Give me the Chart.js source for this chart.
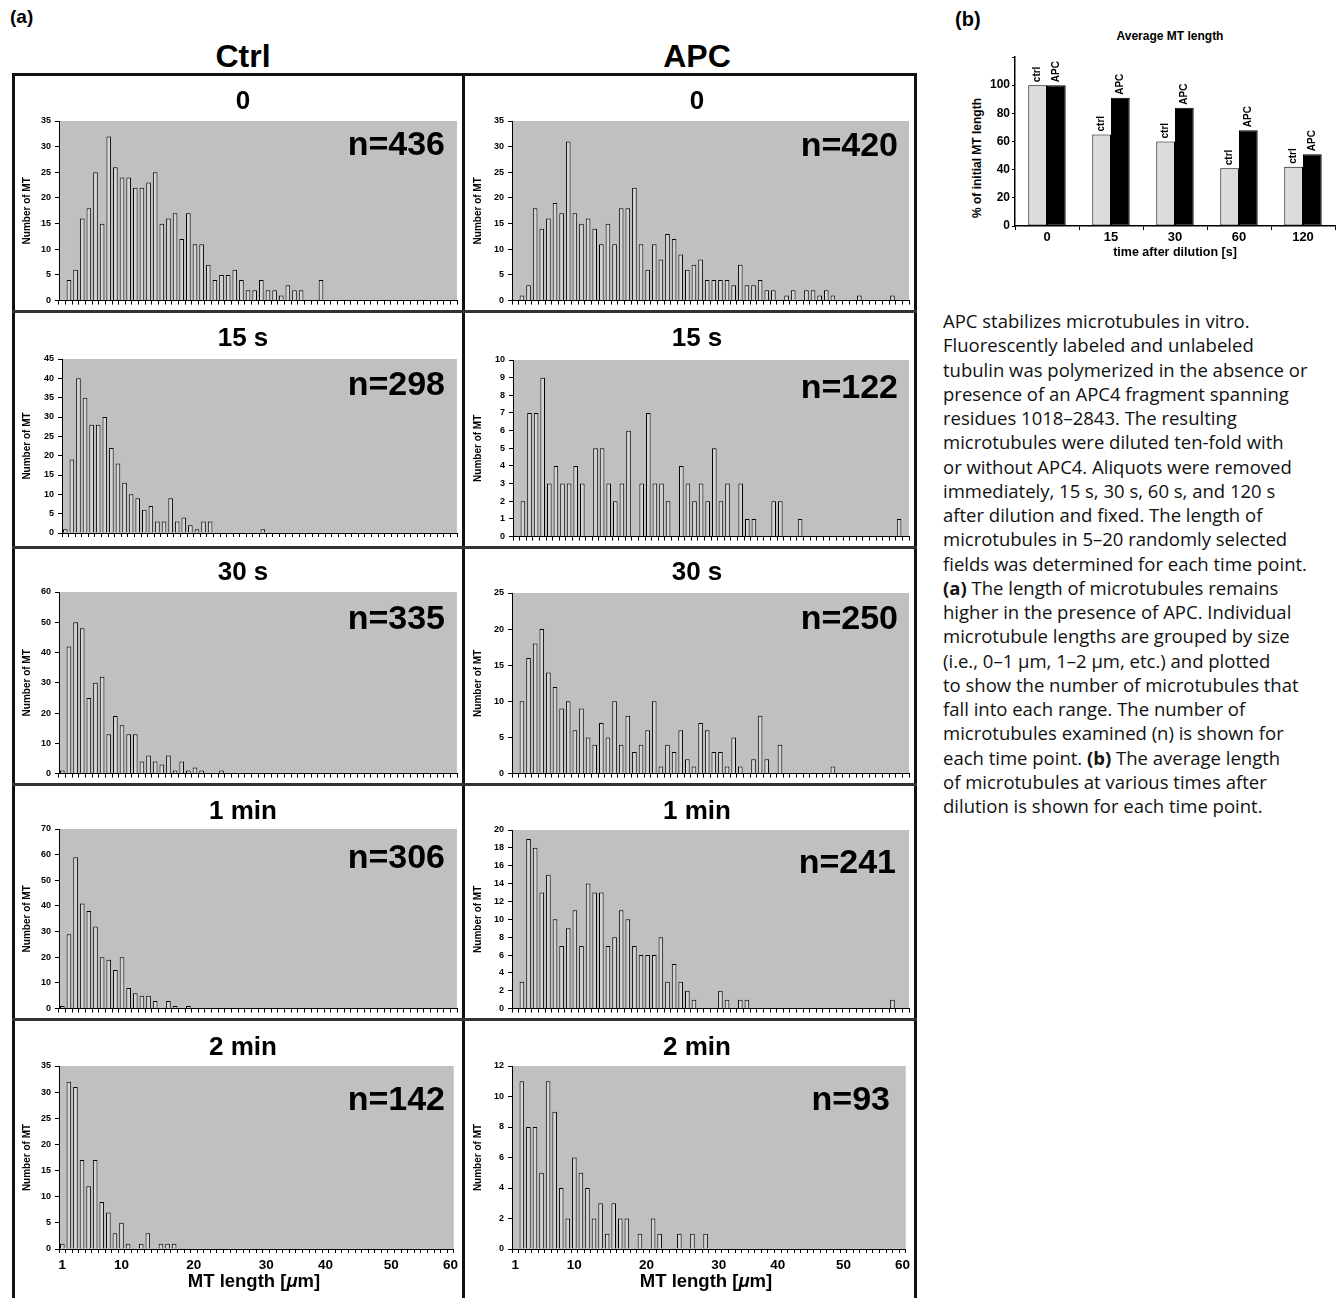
<!DOCTYPE html>
<html>
<head>
<meta charset="utf-8">
<script src="https://cdn.jsdelivr.net/npm/chart.js@4.4.1/dist/chart.umd.min.js"></script>
<style>
  html,body{margin:0;padding:0;background:#fff;}
  body{width:1343px;height:1298px;overflow:hidden;position:relative;font-family:"Liberation Sans",Arial,Helvetica,sans-serif;color:#000;}
  .t{position:absolute;white-space:nowrap;line-height:1;font-weight:bold;}
  .c{text-align:center;}
  .r{text-align:right;}
  .line{position:absolute;background:#111;}
  #caption{position:absolute;left:943px;top:309px;width:400px;font-family:"Open Sans","Liberation Sans",Arial,sans-serif;font-size:18.5px;line-height:24.25px;white-space:nowrap;color:#111;}
  #ytitleB{position:absolute;left:876.7px;top:149.5px;width:200px;text-align:center;font-size:12px;line-height:16px;font-weight:bold;transform:rotate(-90deg);transform-origin:100px 8px;white-space:nowrap;}
  canvas{position:absolute;}
</style>
</head>
<body>
<div class="t" style="left:10px;top:7px;font-size:19px;">(a)</div>
<div class="t c" style="left:143px;width:200px;top:40px;font-size:32px;">Ctrl</div>
<div class="t c" style="left:597px;width:200px;top:40px;font-size:32px;">APC</div>

<div class="line" style="left:12px;top:73px;width:905px;height:3px;"></div>
<div class="line" style="left:12px;top:73px;width:3px;height:1230px;"></div>
<div class="line" style="left:914px;top:73px;width:3px;height:1230px;"></div>
<div class="line" style="left:462px;top:73px;width:3px;height:1230px;"></div>
<div class="line" style="left:12px;top:310px;width:905px;height:3px;background:#333;"></div>
<div class="line" style="left:12px;top:546px;width:905px;height:3px;background:#333;"></div>
<div class="line" style="left:12px;top:783px;width:905px;height:3px;background:#333;"></div>
<div class="line" style="left:12px;top:1018px;width:905px;height:3px;background:#333;"></div>

<div class="t" style="left:955px;top:9px;font-size:20px;">(b)</div>
<div class="t c" style="left:1070px;width:200px;top:29.5px;font-size:12px;">Average MT length</div>
<div id="ytitleB">% of initial MT length</div>

<div id="caption">APC stabilizes microtubules in vitro.<br>Fluorescently labeled and unlabeled<br>tubulin was polymerized in the absence or<br>presence of an APC4 fragment spanning<br>residues 1018–2843. The resulting<br>microtubules were diluted ten-fold with<br>or without APC4. Aliquots were removed<br>immediately, 15 s, 30 s, 60 s, and 120 s<br>after dilution and fixed. The length of<br>microtubules in 5–20 randomly selected<br>fields was determined for each time point.<br><b>(a)</b> The length of microtubules remains<br>higher in the presence of APC. Individual<br>microtubule lengths are grouped by size<br>(i.e., 0–1 μm, 1–2 μm, etc.) and plotted<br>to show the number of microtubules that<br>fall into each range. The number of<br>microtubules examined (n) is shown for<br>each time point. <b>(b)</b> The average length<br>of microtubules at various times after<br>dilution is shown for each time point.</div>

<script>
// ---------------- DATA ----------------
// Histogram bins: 60 bins, first bin labelled "1" (µm)
const binLabels = ['1','2','3','4','5','6','7','8','9','10','11','12','13','14','15','16','17','18','19','20',
  '21','22','23','24','25','26','27','28','29','30','31','32','33','34','35','36','37','38','39','40',
  '41','42','43','44','45','46','47','48','49','50','51','52','53','54','55','56','57','58','59','60'];
// x tick labels shown on the bottom row and the bin they sit under
const xTickText = ['1','10','20','30','40','50','60'];
const xTickBin  = [0, 9, 20, 31, 40, 50, 59];

const panelTitles = ['0','15 s','30 s','1 min','2 min'];

const ctrl0   = [0,4,6,16,18,25,15,32,26,24, 24,22,22,23,25,15,16,17,12,17, 11,11,7,4,5,5,6,4,2,2, 4,2,2,1,3,2,2,0,0,4, 0,0,0,0,0,0,0,0,0,0, 0,0,0,0,0,0,0,0,0,0];
const ctrl15  = [1,19,40,35,28,28,30,22,18,13, 10,9,6,7,3,3,9,3,4,2, 1,3,3,0,0,0,0,0,0,0, 1,0,0,0,0,0,0,0,0,0, 0,0,0,0,0,0,0,0,0,0, 0,0,0,0,0,0,0,0,0,0];
const ctrl30  = [1,42,50,48,25,30,32,13,19,16, 13,13,4,6,4,3,6,1,4,1, 2,1,0,0,1,0,0,0,0,0, 0,0,0,0,0,0,0,0,0,0, 0,0,0,0,0,0,0,0,0,0, 0,0,0,0,0,0,0,0,0,0];
const ctrl60  = [1,29,59,41,38,32,20,19,15,20, 8,6,5,5,3,0,3,1,0,1, 0,0,0,0,0,0,0,0,0,0, 0,0,0,0,0,0,0,0,0,0, 0,0,0,0,0,0,0,0,0,0, 0,0,0,0,0,0,0,0,0,0];
const ctrl120 = [1,32,31,17,12,17,9,7,3,5, 1,0,1,3,0,1,1,1,0,0, 0,0,0,0,0,0,0,0,0,0, 0,0,0,0,0,0,0,0,0,0, 0,0,0,0,0,0,0,0,0,0, 0,0,0,0,0,0,0,0,0,0];

const apc0    = [0,1,3,18,14,16,19,17,31,17, 15,16,14,11,15,11,18,18,22,11, 6,11,8,13,12,9,6,7,8,4, 4,4,4,3,7,3,3,4,2,2, 0,1,2,0,2,2,1,2,1,0, 0,0,1,0,0,0,0,1,0,0];
const apc15   = [0,2,7,7,9,3,4,3,3,4, 3,0,5,5,3,2,3,6,0,3, 7,3,3,2,0,4,3,2,3,2, 5,2,3,0,3,1,1,0,0,2, 2,0,0,1,0,0,0,0,0,0, 0,0,0,0,0,0,0,0,1,0];
const apc30   = [0,10,16,18,20,14,12,9,10,6, 9,5,4,7,5,10,4,8,3,4, 6,10,1,4,3,6,2,1,7,6, 3,3,1,5,1,0,2,8,2,0, 4,0,0,0,0,0,0,0,1,0, 0,0,0,0,0,0,0,0,0,0];
const apc60   = [0,3,19,18,13,15,10,7,9,11, 7,14,13,13,7,8,11,10,7,6, 6,6,8,3,5,3,2,1,0,0, 0,2,1,0,1,1,0,0,0,0, 0,0,0,0,0,0,0,0,0,0, 0,0,0,0,0,0,0,1,0,0];
const apc120  = [0,11,8,8,5,11,9,4,2,6, 5,4,2,3,1,3,2,2,0,1, 0,2,1,0,0,1,0,1,0,1, 0,0,0,0,0,0,0,0,0,0, 0,0,0,0,0,0,0,0,0,0, 0,0,0,0,0,0,0,0,0,0];

const ctrlN = [436, 298, 335, 306, 142];
const apcN  = [420, 122, 250, 241, 93];
const ctrlYMax  = [35, 45, 60, 70, 35];
const ctrlYStep = [5, 5, 10, 10, 5];
const apcYMax   = [35, 10, 25, 20, 12];
const apcYStep  = [5, 1, 5, 2, 2];

// Panel (b)
const timeLabels = ['0','15','30','60','120'];
const ctrlAvg = [100, 65, 60, 41, 42];
const apcAvg  = [100, 91, 84, 68, 51];

// ---------------- LAYOUT ----------------
const FONT = '"Liberation Sans", Arial, Helvetica, sans-serif';
const COLS = [
  {left:15, right:462, titleX:243, yTitleX:27, xTitleX:254},
  {left:465, right:914, titleX:697, yTitleX:478, xTitleX:706}
];
const ROWS = [
  {top:76, bottom:310}, {top:313, bottom:546}, {top:549, bottom:783}, {top:786, bottom:1018}, {top:1021, bottom:1298}
];
const PLOT = [
  [[59,121,457,304],[62,359,457,533],[59,592,457,776],[59,829,457,1013],[59,1066,457,1249]],
  [[512,121,909,304],[513,360,909,537],[512,593,909,777],[512,830,909,1014],[512,1066,909,1249]]
];
const TITLE_TOP = [86.6, 323.6, 558, 796.6, 1033.3];
const N_TOP   = [[125.6,365.6,600,838.6,1080.6],[127,369,600,843.6,1080.6]];
const N_RIGHT = [[445,445,445,445,445],[898,898,898,896,890]];

const plotBg = {
  id:'plotBg',
  beforeDraw(chart){
    const {ctx, chartArea:a} = chart;
    ctx.save();
    ctx.fillStyle = '#c0c0c0';
    ctx.fillRect(a.left, a.top, a.right - a.left, a.bottom - a.top);
    ctx.restore();
  }
};

function addText(html, cls, style){
  const d = document.createElement('div');
  d.className = 't ' + cls;
  d.style.cssText = style;
  d.innerHTML = html;
  document.body.appendChild(d);
}

function makePanel(ci, ri, data, yMax, yStep, nVal){
  const col = COLS[ci], row = ROWS[ri], p = PLOT[ci][ri];
  const isBottom = ri === 4;
  const w = col.right - col.left, h = row.bottom - row.top;
  const cv = document.createElement('canvas');
  cv.width = w; cv.height = h;
  cv.style.left = col.left + 'px'; cv.style.top = row.top + 'px';
  cv.style.width = w + 'px'; cv.style.height = h + 'px';
  document.body.appendChild(cv);
  const yW = p[0] - col.left;
  const xH = isBottom ? 30 : 5;
  const pad = {left:0, top:p[1] - row.top, right:col.right - p[2], bottom:Math.max(0, row.bottom - p[3] - xH)};
  new Chart(cv, {
    type:'bar',
    data:{labels:binLabels, datasets:[{data:data, backgroundColor:'#d4d4d4', borderColor:'#000', borderWidth:1,
      barPercentage:0.7, categoryPercentage:1}]},
    options:{
      responsive:false, animation:false, devicePixelRatio:1,
      layout:{padding:pad},
      plugins:{legend:{display:false}, tooltip:{enabled:false}, title:{display:false}},
      scales:{
        x:{
          type:'category', offset:true,
          grid:{display:true, drawOnChartArea:false, drawTicks:true, tickLength:4, color:'#000', offset:true},
          border:{display:true, color:'#000', width:1},
          ticks:{display:isBottom, autoSkip:false, maxRotation:0, minRotation:0, padding:4, color:'#000',
            font:{family:FONT, size:13.5, weight:'bold'},
            callback:(v, i) => { const k = xTickBin.indexOf(i); return k >= 0 ? xTickText[k] : ''; }},
          afterFit:s => { s.height = xH; }
        },
        y:{
          min:0, max:yMax,
          ticks:{stepSize:yStep, color:'#000', padding:4, font:{family:FONT, size:9, weight:'bold'}},
          grid:{drawOnChartArea:false, drawTicks:true, tickLength:4, color:'#000'},
          border:{display:true, color:'#000', width:1},
          title:{display:true, text:'Number of MT', color:'#000', font:{family:FONT, size:10, weight:'bold'},
            padding:{top:col.yTitleX - col.left - 6, bottom:0}},
          afterFit:s => { s.width = yW; }
        }
      }
    },
    plugins:[plotBg]
  });
  addText(panelTitles[ri], 'c', `left:${col.titleX-150}px;width:300px;top:${TITLE_TOP[ri]}px;font-size:26px;`);
  addText('n=' + nVal, 'r', `left:${N_RIGHT[ci][ri]-300}px;width:300px;top:${N_TOP[ci][ri]}px;font-size:34px;`);
  if (isBottom) {
    addText('MT length [<i>μ</i>m]', 'c', `left:${col.xTitleX-150}px;width:300px;top:1271.5px;font-size:18.5px;`);
  }
}

const ctrlSeries = [ctrl0, ctrl15, ctrl30, ctrl60, ctrl120];
const apcSeries  = [apc0, apc15, apc30, apc60, apc120];
for (let r = 0; r < 5; r++) {
  makePanel(0, r, ctrlSeries[r], ctrlYMax[r], ctrlYStep[r], ctrlN[r]);
  makePanel(1, r, apcSeries[r], apcYMax[r], apcYStep[r], apcN[r]);
}

// ---------------- PANEL (b) ----------------
const barLabelPlugin = {
  id:'barLabels',
  afterDatasetsDraw(chart){
    const ctx = chart.ctx;
    ctx.save();
    ctx.fillStyle = '#000';
    ctx.font = `bold 10px ${FONT}`;
    chart.data.datasets.forEach((ds, di) => {
      const meta = chart.getDatasetMeta(di);
      meta.data.forEach(el => {
        ctx.save();
        ctx.translate(el.x, el.y - 3);
        ctx.rotate(-Math.PI / 2);
        ctx.textAlign = 'left';
        ctx.textBaseline = 'middle';
        ctx.fillText(ds.label, 0, 0);
        ctx.restore();
      });
    });
    ctx.restore();
  }
};

const cvB = document.createElement('canvas');
cvB.width = 413; cvB.height = 270;
cvB.style.left = '930px'; cvB.style.top = '0px';
cvB.style.width = '413px'; cvB.style.height = '270px';
document.body.appendChild(cvB);
new Chart(cvB, {
  type:'bar',
  data:{labels:timeLabels, datasets:[
    {label:'ctrl', data:ctrlAvg, backgroundColor:'#dcdcdc', borderColor:'#000', borderWidth:1, borderSkipped:false},
    {label:'APC', data:apcAvg, backgroundColor:'#000', borderColor:'#000', borderWidth:1, borderSkipped:false}
  ]},
  options:{
    responsive:false, animation:false, devicePixelRatio:1,
    layout:{padding:{left:0, top:57, right:8, bottom:4}},
    datasets:{bar:{categoryPercentage:0.585, barPercentage:1}},
    plugins:{legend:{display:false}, tooltip:{enabled:false}},
    scales:{
      x:{
        grid:{drawOnChartArea:false, tickLength:4, color:'#000', offset:true},
        border:{color:'#000', width:1.5},
        ticks:{color:'#000', padding:0, font:{family:FONT, size:13, weight:'bold'}},
        title:{display:true, text:'time after dilution [s]', color:'#000', font:{family:FONT, size:12.5, weight:'bold'},
          padding:{top:0, bottom:6}},
        afterFit:s => { s.height = 40; }
      },
      y:{
        min:0, max:120,
        ticks:{stepSize:20, color:'#000', padding:2, font:{family:FONT, size:12, weight:'bold'},
          callback:v => (v > 100 ? '' : v)},
        grid:{drawOnChartArea:false, tickLength:3, color:'#000'},
        border:{color:'#000', width:1.5},
        title:{display:false},
        afterFit:s => { s.width = 85; }
      }
    }
  },
  plugins:[barLabelPlugin]
});
</script>
</body>
</html>
